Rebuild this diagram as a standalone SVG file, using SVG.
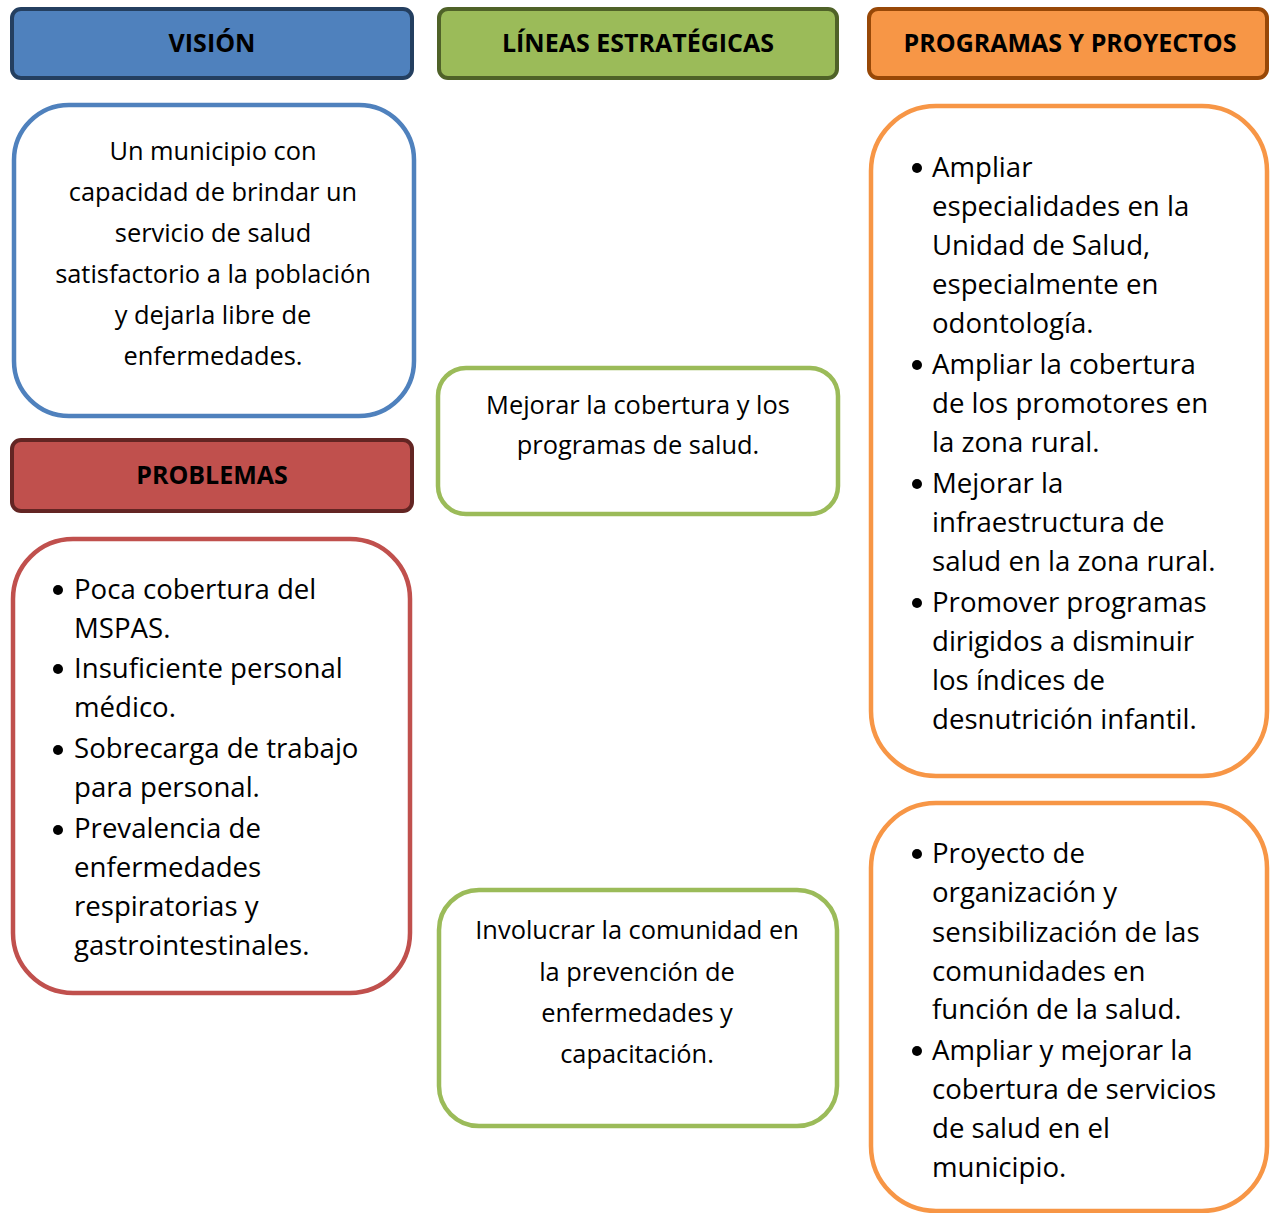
<svg xmlns="http://www.w3.org/2000/svg" width="1270" height="1213" viewBox="0 0 1270 1213">
<style>
.hd{font-family:"Open Sans","Noto Sans",sans-serif;font-weight:bold;font-size:25px;fill:#000;text-anchor:middle}
.ct{font-family:"Open Sans","Noto Sans",sans-serif;font-size:25.4px;fill:#000;text-anchor:middle}
.bl{font-family:"Open Sans","Noto Sans",sans-serif;font-size:27.6px;fill:#000}
.box{fill:#fff;stroke-width:4.5}
.h{stroke-width:4}
</style>
<rect width="1270" height="1213" fill="#fff"/>
<g id="connectors"/>
<g id="vision-header">
<rect class="h" x="12" y="9" width="400" height="69" rx="9" fill="#4F81BD" stroke="#243F60"/>
<text class="hd" x="212" y="52">VISIÓN</text>
</g>
<g id="lineas-header">
<rect class="h" x="439" y="9" width="398" height="69" rx="9" fill="#9BBB59" stroke="#4F6228"/>
<text class="hd" x="638" y="52">LÍNEAS ESTRATÉGICAS</text>
</g>
<g id="programas-header">
<rect class="h" x="869" y="9" width="398" height="69" rx="9" fill="#F79646" stroke="#984807"/>
<text class="hd" x="1070" y="52">PROGRAMAS Y PROYECTOS</text>
</g>
<g id="problemas-header">
<rect class="h" x="12" y="440" width="400" height="71" rx="9" fill="#C0504D" stroke="#632523"/>
<text class="hd" x="212" y="484">PROBLEMAS</text>
</g>
<g id="vision-box">
<rect class="box" x="14" y="105" width="400" height="311" rx="55" stroke="#4F81BD"/>
<text class="ct" x="213" y="160">Un municipio con</text>
<text class="ct" x="213" y="201">capacidad de brindar un</text>
<text class="ct" x="213" y="242">servicio de salud</text>
<text class="ct" x="213" y="283">satisfactorio a la población</text>
<text class="ct" x="213" y="324">y dejarla libre de</text>
<text class="ct" x="213" y="365">enfermedades.</text>
</g>
<g id="linea-1">
<rect class="box" x="438" y="368" width="400" height="146" rx="28" stroke="#9BBB59"/>
<text class="ct" x="638" y="414">Mejorar la cobertura y los</text>
<text class="ct" x="638" y="454">programas de salud.</text>
</g>
<g id="linea-2">
<rect class="box" x="439" y="890" width="398" height="236" rx="40" stroke="#9BBB59"/>
<text class="ct" x="637" y="939">Involucrar la comunidad en</text>
<text class="ct" x="637" y="981">la prevención de</text>
<text class="ct" x="637" y="1022">enfermedades y</text>
<text class="ct" x="637" y="1063">capacitación.</text>
</g>
<g id="problemas-box">
<rect class="box" x="13" y="539" width="397" height="454" rx="60" stroke="#C0504D"/>
<circle cx="58" cy="590" r="5"/>
<circle cx="58" cy="669" r="5"/>
<circle cx="58" cy="750" r="5"/>
<circle cx="58" cy="830" r="5"/>
<text class="bl" x="74" y="599">Poca cobertura del</text>
<text class="bl" x="74" y="638">MSPAS.</text>
<text class="bl" x="74" y="678">Insuficiente personal</text>
<text class="bl" x="74" y="717">médico.</text>
<text class="bl" x="74" y="758">Sobrecarga de trabajo</text>
<text class="bl" x="74" y="797">para personal.</text>
<text class="bl" x="74" y="838">Prevalencia de</text>
<text class="bl" x="74" y="877">enfermedades</text>
<text class="bl" x="74" y="916">respiratorias y</text>
<text class="bl" x="74" y="955">gastrointestinales.</text>
</g>
<g id="programas-box-1">
<rect class="box" x="871" y="106" width="396" height="670" rx="65" stroke="#F79646"/>
<circle cx="917" cy="168" r="5"/>
<circle cx="917" cy="365" r="5"/>
<circle cx="917" cy="484" r="5"/>
<circle cx="917" cy="603" r="5"/>
<text class="bl" x="932" y="177">Ampliar</text>
<text class="bl" x="932" y="216">especialidades en la</text>
<text class="bl" x="932" y="255">Unidad de Salud,</text>
<text class="bl" x="932" y="294">especialmente en</text>
<text class="bl" x="932" y="333">odontología.</text>
<text class="bl" x="932" y="374">Ampliar la cobertura</text>
<text class="bl" x="932" y="413">de los promotores en</text>
<text class="bl" x="932" y="452">la zona rural.</text>
<text class="bl" x="932" y="493">Mejorar la</text>
<text class="bl" x="932" y="532">infraestructura de</text>
<text class="bl" x="932" y="571">salud en la zona rural.</text>
<text class="bl" x="932" y="612">Promover programas</text>
<text class="bl" x="932" y="651">dirigidos a disminuir</text>
<text class="bl" x="932" y="690">los índices de</text>
<text class="bl" x="932" y="729">desnutrición infantil.</text>
</g>
<g id="programas-box-2">
<rect class="box" x="871" y="803" width="396" height="408" rx="65" stroke="#F79646"/>
<circle cx="917" cy="854" r="5"/>
<circle cx="917" cy="1051" r="5"/>
<text class="bl" x="932" y="863">Proyecto de</text>
<text class="bl" x="932" y="902">organización y</text>
<text class="bl" x="932" y="942">sensibilización de las</text>
<text class="bl" x="932" y="981">comunidades en</text>
<text class="bl" x="932" y="1019">función de la salud.</text>
<text class="bl" x="932" y="1060">Ampliar y mejorar la</text>
<text class="bl" x="932" y="1099">cobertura de servicios</text>
<text class="bl" x="932" y="1138">de salud en el</text>
<text class="bl" x="932" y="1177">municipio.</text>
</g>
</svg>
